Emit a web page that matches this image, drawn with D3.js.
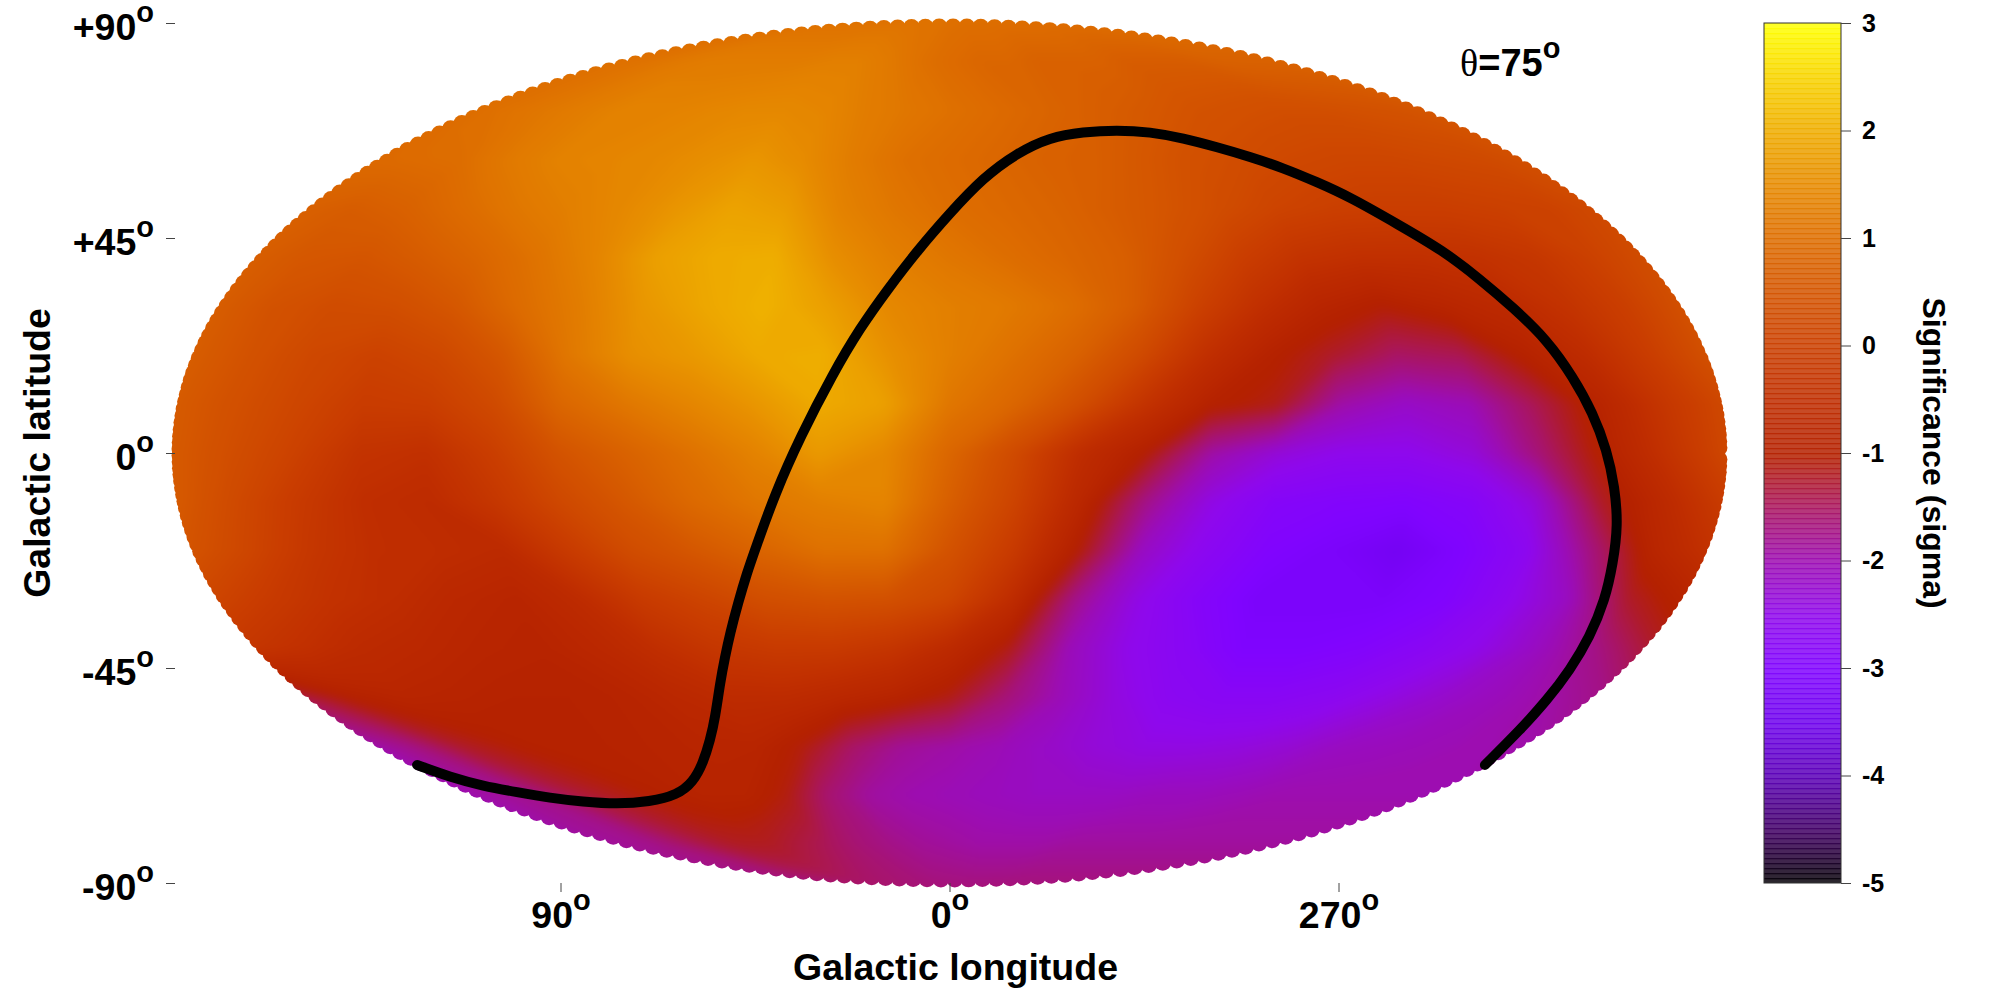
<!DOCTYPE html>
<html>
<head>
<meta charset="utf-8">
<script src="https://cdn.jsdelivr.net/npm/d3@7"></script>
<style>
  html, body { margin: 0; padding: 0; background: #fff; }
  text { font-family: "Liberation Sans", sans-serif; font-weight: bold; fill: #000; }
</style>
</head>
<body>
<div id="chart"></div>
<script>
const width = 2000,
  height = 1000,
  mapCx = 949.5,
  mapRx = 778,
  top90 = 23,
  bottom90 = 883,
  barLeft = 1764,
  barRight = 1841;

// gridded sky, significance; signed longitude (+ left of centre)
const gridLons = [180, 165, 150, 135, 120, 105, 90, 75, 60, 45, 30, 15, 0, -15, -30, -45, -60, -75, -90, -105, -120, -135, -150, -165, -180];
const gridLats = [90, 80, 70, 60, 50, 40, 30, 20, 10, 0, -10, -20, -30, -40, -50, -60, -70, -80, -90];
const significance = [
  [1.1, 1.1, 1.1, 1.1, 1.1, 1.1, 1.1, 1.1, 1.1, 1.1, 1.1, 1.1, 1.1, 1.1, 1.1, 1.1, 1.1, 1.1, 1.1, 1.1, 1.1, 1.1, 1.1, 1.1, 1.1],
  [1.1, 1.1, 1.15, 1.25, 1.3, 1.3, 1.3, 1.3, 1.35, 1.35, 1.25, 1.1, 1.0, 0.9, 0.9, 0.8, 0.8, 0.8, 0.7, 0.7, 0.7, 0.8, 0.8, 0.8, 0.9],
  [1.0, 1.1, 1.2, 1.3, 1.4, 1.4, 1.45, 1.5, 1.5, 1.45, 1.3, 1.2, 1.1, 1.0, 0.9, 0.8, 0.7, 0.6, 0.5, 0.45, 0.4, 0.4, 0.45, 0.5, 0.6],
  [0.95, 1.0, 1.05, 1.25, 1.4, 1.45, 1.5, 1.6, 1.7, 1.55, 1.3, 1.1, 1.0, 0.9, 0.8, 0.75, 0.6, 0.45, 0.35, 0.25, 0.2, 0.2, 0.25, 0.3, 0.45],
  [0.8, 0.7, 0.8, 1.0, 1.2, 1.35, 1.5, 1.7, 1.9, 1.8, 1.4, 1.2, 1.05, 0.95, 0.85, 0.7, 0.55, 0.35, 0.15, 0.05, 0, 0, 0.05, 0.1, 0.3],
  [0.75, 0.6, 0.55, 0.7, 0.9, 1.15, 1.45, 1.85, 2.0, 2.05, 1.6, 1.35, 1.2, 1.05, 0.9, 0.75, 0.4, 0, -0.3, -0.4, -0.4, -0.35, -0.2, 0.1, 0.4],
  [0.75, 0.5, 0.35, 0.4, 0.6, 1.0, 1.3, 1.7, 1.95, 2.1, 1.85, 1.5, 1.35, 1.25, 1.05, 0.7, 0.1, -0.4, -0.8, -1.0, -0.8, -0.6, -0.3, 0.05, 0.5],
  [0.75, 0.5, 0.25, 0.1, 0.25, 0.6, 1.2, 1.6, 1.75, 2.0, 2.05, 1.65, 1.35, 1.1, 0.8, 0.3, -0.4, -0.9, -1.2, -1.5, -1.4, -0.9, -0.5, 0, 0.5],
  [0.7, 0.45, 0.2, -0.05, 0, 0.3, 0.9, 1.2, 1.45, 1.7, 2.0, 1.85, 1.2, 0.9, 0.4, -0.3, -0.9, -1.1, -1.9, -2.15, -2.0, -1.4, -0.8, -0.2, 0.3],
  [0.7, 0.4, 0.1, -0.3, -0.4, 0, 0.5, 0.8, 1.1, 1.4, 1.75, 1.5, 0.9, 0.3, -0.5, -1.0, -1.9, -2.3, -2.5, -2.5, -2.3, -1.6, -0.9, -0.3, 0.3],
  [0.7, 0.3, -0.1, -0.45, -0.55, -0.2, 0.25, 0.6, 0.95, 1.2, 1.35, 1.45, 0.75, 0.15, -0.7, -1.7, -2.4, -2.8, -2.9, -2.95, -2.8, -2.3, -1.2, -0.6, 0],
  [0.55, 0.2, -0.2, -0.45, -0.5, -0.6, -0.1, 0.35, 0.6, 0.85, 1.1, 1.1, 0.5, -0.1, -1.0, -2.1, -2.6, -2.95, -3.1, -3.3, -3.0, -2.6, -1.7, -0.8, -0.3],
  [0.2, -0.1, -0.35, -0.5, -0.7, -0.8, -0.55, -0.1, 0.15, 0.4, 0.5, 0.45, 0.2, -0.5, -1.7, -2.4, -2.8, -3.1, -3.1, -3.1, -2.95, -2.55, -2.1, -1.2, -0.8],
  [-0.2, -0.4, -0.6, -0.7, -0.8, -0.85, -0.7, -0.45, -0.2, -0.1, -0.1, -0.25, -0.6, -1.1, -2.0, -2.45, -2.7, -3.0, -3.0, -2.9, -2.7, -2.45, -2.1, -1.7, -1.2],
  [-1.4, -0.95, -0.8, -0.85, -0.9, -0.9, -0.85, -0.7, -0.55, -0.55, -0.7, -0.85, -1.1, -1.6, -2.0, -2.35, -2.6, -2.7, -2.7, -2.6, -2.4, -2.2, -2.05, -1.9, -1.7],
  [-2.0, -1.7, -1.2, -1.0, -0.9, -0.9, -0.85, -0.8, -0.8, -1.05, -1.5, -1.8, -1.9, -2.0, -2.15, -2.3, -2.4, -2.4, -2.35, -2.25, -2.1, -2.05, -2.0, -1.95, -1.9],
  [-2.0, -1.85, -1.7, -1.3, -1.1, -0.95, -0.85, -0.85, -1.05, -1.55, -1.85, -1.95, -2.0, -2.05, -2.1, -2.1, -2.1, -2.05, -2.05, -2.0, -1.95, -1.95, -1.95, -1.95, -1.95],
  [-1.9, -1.8, -1.75, -1.55, -1.3, -1.15, -1.15, -1.3, -1.45, -1.6, -1.7, -1.8, -1.85, -1.9, -1.9, -1.9, -1.85, -1.85, -1.85, -1.85, -1.85, -1.85, -1.85, -1.85, -1.85],
  [-1.6, -1.6, -1.6, -1.6, -1.6, -1.6, -1.6, -1.6, -1.6, -1.6, -1.6, -1.6, -1.6, -1.6, -1.6, -1.6, -1.6, -1.6, -1.6, -1.6, -1.6, -1.6, -1.6, -1.6, -1.6]
];

// the theta=75 boundary
const curveLon = [179, 175.8, 170.6, 162.7, 154.8, 145.1, 133.2, 118.6, 104, 92.2, 82.3, 74.4, 68.7, 62.8, 59, 55.9, 52.2, 48.8, 46.2, 40.5, 34.6, 27.4, 21.6, 15.6, 8.3, -0.1, -10.1, -21.8, -34.3, -46.4, -58.7, -69.7, -79.4, -88.1, -95.9, -103, -109.5, -115.3, -122.7, -129.3, -134.2, -138.6, -143.3, -146.6, -149.5, -152.1, -154.4, -156.9, -158.8, -161.4, -163.9, -166.3, -168.9, -172.6, -180];
const curveLat = [-65.3, -67.8, -69.7, -71, -72.2, -73, -73.5, -73, -71.6, -68.9, -64.9, -60.1, -55.3, -48.1, -42.7, -37.7, -31.4, -25.1, -20.3, -8.4, 3.3, 16.7, 26.2, 34.1, 42.5, 50.2, 57.6, 62.8, 66.1, 67.2, 67.6, 67.2, 65.9, 64, 62, 59.7, 56.7, 53.6, 47.7, 42.5, 36.4, 30.4, 23.7, 15.9, 8.4, 0.6, -7.1, -15.1, -23, -30.8, -38.5, -45.4, -51.7, -58, -65.3];

const latTicks = [90, 45, 0, -45, -90];
const latLabels = ["+90", "+45", "0", "-45", "-90"];
const lonTicks = [90, 0, -90];
const lonLabels = ["90", "0", "270"];
const barTicks = [3, 2, 1, 0, -1, -2, -3, -4, -5];

const paletteValues = [-5, -4.5, -4, -3.5, -3, -2.5, -2, -1.5, -1, -0.5, 0, 0.5, 1, 1.5, 2, 2.5, 3];
const paletteColors = ["#000000", "#400062", "#5a00b4", "#6e02ec", "#8004ff", "#8f08ec", "#9c0db4", "#a91562", "#b42000", "#bf2d00", "#ca3e00", "#d35300", "#dd6c00", "#e68900", "#eeab00", "#f7d200", "#ffff00"];

const color = d3.scaleLinear().domain(paletteValues).range(paletteColors);
const y = d3.scaleLinear().domain([90, -90]).range([top90, bottom90]);
const x = d3.scaleLinear().domain([180, -180]).range([mapCx - mapRx, mapCx + mapRx]);
const midY = y(0);

function squeeze(lat) {
  return Math.sqrt(Math.max(0, 1 - (lat / 90) * (lat / 90)));
}
// longitude shrinks toward the poles, latitude stays linear on the axis
function project(lon, lat) {
  return [x(lon * squeeze(lat)), y(lat)];
}

const svg = d3
  .select("#chart")
  .append("svg")
  .attr("width", width)
  .attr("height", height)
  .style("display", "block");

const defs = svg.append("defs");
defs
  .append("filter")
  .attr("id", "soften")
  .attr("filterUnits", "userSpaceOnUse")
  .attr("x", 0)
  .attr("y", 0)
  .attr("width", width)
  .attr("height", height)
  .attr("color-interpolation-filters", "sRGB")
  .append("feGaussianBlur")
  .attr("stdDeviation", 4);

// scalloped outline: ellipse plus the round sky pixels along the edge
const pixelR = 8.5,
  edgeRx = mapRx - pixelR,
  edgeRy = 434.5 - pixelR;
const clip = defs.append("clipPath").attr("id", "sky");
clip
  .append("ellipse")
  .attr("cx", mapCx)
  .attr("cy", midY)
  .attr("rx", edgeRx)
  .attr("ry", edgeRy);
let run = 0,
  px = mapCx + edgeRx,
  py = midY;
d3.range(0, 2 * Math.PI, 0.001).forEach(a => {
  const nx = mapCx + edgeRx * Math.cos(a),
    ny = midY + edgeRy * Math.sin(a);
  run += Math.hypot(nx - px, ny - py);
  px = nx;
  py = ny;
  if (run >= 6 + 7.8 * Math.abs(Math.sin(a))) {
    run = 0;
    clip
      .append("circle")
      .attr("cx", nx)
      .attr("cy", ny)
      .attr("r", pixelR);
  }
});

// heat map: filled contours of the grid, stretched a bit past the outline
const nCols = gridLons.length,
  nRows = gridLats.length;
const colToLon = d3.scaleLinear().domain([0.5, nCols - 0.5]).range([gridLons[0], gridLons[nCols - 1]]);
const rowToLat = d3.scaleLinear().domain([0.5, nRows - 0.5]).range([gridLats[0], gridLats[nRows - 1]]);
const heatX = d3.scaleLinear().domain([180, -180]).range([mapCx - mapRx - 8, mapCx + mapRx + 8]);
const heatY = d3.scaleLinear().domain([90, -90]).range([midY - 440, midY + 440]);
const gridPath = d3.geoPath(
  d3.geoTransform({
    point(col, row) {
      const lat = rowToLat(row);
      let sx = heatX(colToLon(col) * squeeze(lat)),
        sy = heatY(lat);
      if (col <= 0) sx -= 120;
      if (col >= nCols) sx += 120;
      if (row <= 0) sy -= 30;
      if (row >= nRows) sy += 30;
      this.stream.point(sx, sy);
    }
  })
);
const contourLevels = d3.range(-3.5, 2.3, 0.04);
const contourBands = d3
  .contours()
  .size([nCols, nRows])
  .thresholds(contourLevels)(d3.merge(significance));
svg
  .append("g")
  .attr("clip-path", "url(#sky)")
  .append("g")
  .attr("filter", "url(#soften)")
  .selectAll("path")
  .data(contourBands)
  .join("path")
  .attr("d", gridPath)
  .attr("fill", d => color(d.value))
  .attr("stroke", d => color(d.value))
  .attr("stroke-width", 1);

// boundary curve
svg
  .append("path")
  .datum(d3.zip(curveLon, curveLat))
  .attr("fill", "none")
  .attr("stroke", "#000")
  .attr("stroke-width", 10)
  .attr("stroke-linecap", "round")
  .attr("stroke-linejoin", "round")
  .attr(
    "d",
    d3
      .line()
      .x(d => project(d[0], d[1])[0])
      .y(d => project(d[0], d[1])[1])
      .curve(d3.curveBasis)
  );

// axes
const yAxis = svg
  .append("g")
  .attr("transform", "translate(175,0)")
  .call(
    d3
      .axisLeft(y)
      .tickValues(latTicks)
      .tickSize(9)
      .tickPadding(12)
  );
yAxis.select(".domain").remove();
yAxis.selectAll(".tick line").attr("stroke", "#444");
yAxis.selectAll(".tick").each(function(d, i) {
  const t = d3.select(this).select("text");
  t.attr("dy", 16)
    .text(latLabels[i])
    .style("font-size", "37.5px");
  t.append("tspan")
    .attr("dy", -18)
    .style("font-size", "29px")
    .text("o");
});

const xAxis = svg
  .append("g")
  .attr("transform", "translate(0," + bottom90 + ")")
  .call(
    d3
      .axisBottom(x)
      .tickValues(lonTicks)
      .tickSize(9)
  );
xAxis.select(".domain").remove();
xAxis.selectAll(".tick line").attr("stroke", "#444");
xAxis.selectAll(".tick").each(function(d, i) {
  const t = d3.select(this).select("text");
  t.attr("y", 45)
    .attr("dy", 0)
    .text(lonLabels[i])
    .style("font-size", "37.5px");
  t.append("tspan")
    .attr("dy", -18)
    .style("font-size", "29px")
    .text("o");
});

svg
  .append("text")
  .attr("x", 955.5)
  .attr("y", 980)
  .attr("text-anchor", "middle")
  .style("font-size", "37.5px")
  .text("Galactic longitude");

svg
  .append("text")
  .attr("transform", "translate(50,453) rotate(-90)")
  .attr("text-anchor", "middle")
  .style("font-size", "37.5px")
  .text("Galactic latitude");

// theta label
const theta = svg
  .append("text")
  .attr("x", 1460)
  .attr("y", 76)
  .style("font-size", "38px");
theta
  .append("tspan")
  .style("font-family", "'Liberation Serif', serif")
  .style("font-weight", "normal")
  .text("\u03b8");
theta.append("tspan").text("=75");
theta
  .append("tspan")
  .attr("dy", -18)
  .style("font-size", "29px")
  .text("o");

// colour bar, overlapping translucent strips give the banding
const barY = d3.scaleLinear().domain([3, -5]).range([top90, bottom90]);
const bandStep = 5;
const bandValues = d3.range(top90, bottom90, bandStep).map(v => barY.invert(v));
svg
  .append("g")
  .selectAll("rect")
  .data(bandValues)
  .join("rect")
  .attr("x", barLeft)
  .attr("y", d => barY(d))
  .attr("width", barRight - barLeft)
  .attr("height", d => Math.min(bandStep + 1.3, bottom90 - barY(d)))
  .attr("fill", d => color(d))
  .attr("opacity", 0.85);
svg
  .append("rect")
  .attr("x", barLeft)
  .attr("y", top90)
  .attr("width", barRight - barLeft)
  .attr("height", bottom90 - top90)
  .attr("fill", "none")
  .attr("stroke", "#333")
  .attr("stroke-width", 1);

const barAxis = svg
  .append("g")
  .attr("transform", "translate(" + barRight + ",0)")
  .call(
    d3
      .axisRight(barY)
      .tickValues(barTicks)
      .tickFormat(d => d)
      .tickSize(10)
      .tickPadding(11)
  );
barAxis.select(".domain").remove();
barAxis.selectAll(".tick line").attr("stroke", "#444");
barAxis.selectAll(".tick text").style("font-size", "25px");

svg
  .append("text")
  .attr("transform", "translate(1923,453) rotate(90)")
  .attr("text-anchor", "middle")
  .style("font-size", "32px")
  .text("Significance (sigma)");
</script>
</body>
</html>
